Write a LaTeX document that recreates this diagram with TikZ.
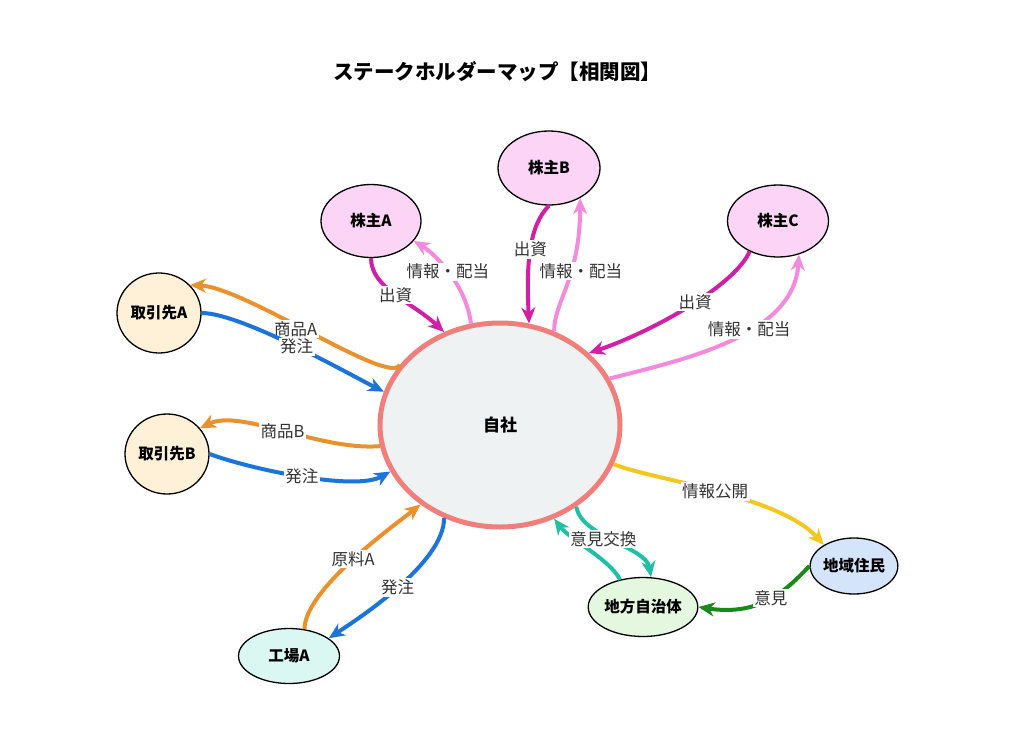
\documentclass[tikz,border=0pt]{standalone}
\usepackage{fontspec}
\setmainfont{Noto Sans CJK JP}
\usetikzlibrary{arrows.meta,shapes.geometric}
\definecolor{cmag}{HTML}{D020A5}
\definecolor{cpink}{HTML}{F38ADB}
\definecolor{corange}{HTML}{E8912D}
\definecolor{cblue}{HTML}{1C74DB}
\definecolor{cyellow}{HTML}{F4C620}
\definecolor{cgreen}{HTML}{188A18}
\definecolor{cteal}{HTML}{21C0A6}
\definecolor{cself}{HTML}{F07E7B}
\definecolor{fself}{HTML}{EFF2F3}
\definecolor{fshare}{HTML}{FCD5F6}
\definecolor{ftrade}{HTML}{FEF1D8}
\definecolor{ffact}{HTML}{DAF7F2}
\definecolor{fres}{HTML}{D4E5FB}
\definecolor{fgov}{HTML}{E3F8DF}
\definecolor{ctext}{HTML}{333333}
\begin{document}
\begin{tikzpicture}[x=1pt,y=-1pt,
  ent/.style={ellipse, draw=black, line width=1.3pt, inner sep=0pt,
    font=\bfseries\fontsize{15.5}{18}\selectfont},
  ar/.style={line width=4pt, -{Stealth[length=16pt,width=14pt,inset=5pt]}},
  lbl/.style={fill=white, inner sep=1.5pt, text=ctext,
    font=\fontsize{16.5}{19}\selectfont}]
\useasboundingbox[fill=white] (0,0) rectangle (1024,733);

\node[font=\bfseries\fontsize{20.5}{24}\selectfont] (title) at (497,72) {ステークホルダーマップ【相関図】};

\node[ent, draw=cself, line width=5pt, fill=fself, minimum width=240pt, minimum height=204pt,
  font=\bfseries\fontsize{17}{20}\selectfont] (self) at (500,425) {自社};
\node[ent, fill=fshare, minimum width=100pt, minimum height=73pt] (kA) at (371,221) {株主A};
\node[ent, fill=fshare, minimum width=102pt, minimum height=74pt] (kB) at (549,168) {株主B};
\node[ent, fill=fshare, minimum width=101pt, minimum height=72pt] (kC) at (778,221) {株主C};
\node[ent, fill=ftrade, minimum width=84pt, minimum height=80pt] (tA) at (159,313) {取引先A};
\node[ent, fill=ftrade, minimum width=84pt, minimum height=80pt] (tB) at (167,454) {取引先B};
\node[ent, fill=ffact, minimum width=101pt, minimum height=55pt] (fA) at (289,656) {工場A};
\node[ent, fill=fres, minimum width=85pt, minimum height=56pt] (rJ) at (854,566) {地域住民};
\node[ent, fill=fgov, minimum width=98pt, minimum height=59pt] (gov) at (643,607) {地方自治体};

% shareholders
\draw[ar, cmag] (kA.south) .. controls +(0,30) and +(-32,-30) .. (self.121) node[lbl,pos=0.5]{出資};
\draw[ar, cpink] (self.106) .. controls +(-5,-40) and +(20,12) .. (kA.335) node[lbl,pos=0.5]{情報・配当};
\draw[ar, cmag] (kB.south) .. controls +(-20,20) and +(-3,-60) .. (self.74) node[lbl,pos=0.5]{出資};
\draw[ar, cpink] (self.60) .. controls +(0,-30) and +(0,80) .. (kB.316) node[lbl,pos=0.6,xshift=10pt]{情報・配当};
\draw[ar, cmag] (kC.227) .. controls +(-15,35) and +(60,-20) .. (self.39) node[lbl,pos=0.45]{出資};
\draw[ar, cpink] (self.23) .. controls +(80,-20) and +(-5,80) .. (kC.302) node[lbl,pos=0.58]{情報・配当};

% trade partners
\draw[ar, corange] (self.149) .. controls +(-10,22) and +(55,2) .. (tA.42) node[lbl,pos=0.56,yshift=-3pt]{商品A};
\draw[ar, cblue] (tA.east) .. controls +(40,0) and +(-30,-15) .. (self.164) node[lbl,pos=0.5]{発注};
\draw[ar, corange] (self.190) .. controls +(-60,5) and +(40,-20) .. (tB.38) node[lbl,pos=0.5]{商品B};
\draw[ar, cblue] (tB.east) .. controls +(40,15) and +(-35,20) .. (self.203) node[lbl,pos=0.5]{発注};

% factory
\draw[ar, corange] (fA.60) .. controls +(0,-40) and +(-25,20) .. (self.225) node[lbl,pos=0.5]{原料A};
\draw[ar, cblue] (self.239) .. controls +(0,45) and +(30,-20) .. (fA.24) node[lbl,pos=0.5]{発注};

% community
\draw[ar, cyellow] (self.341) .. controls +(35,15) and +(-45,-50) .. (rJ.145) node[lbl,pos=0.5]{情報公開};
\draw[ar, cgreen] (rJ.west) .. controls +(-20,20) and +(65,10) .. (gov.east) node[lbl,pos=0.5]{意見};
\draw[ar, cteal] (gov.130) .. controls +(-10,-20) and +(15,20) .. (self.300);
\draw[ar, cteal] (self.313) .. controls +(5,30) and +(-5,-30) .. (gov.75) node[lbl,pos=0.45,xshift=-5pt]{意見交換};
\end{tikzpicture}
\end{document}
